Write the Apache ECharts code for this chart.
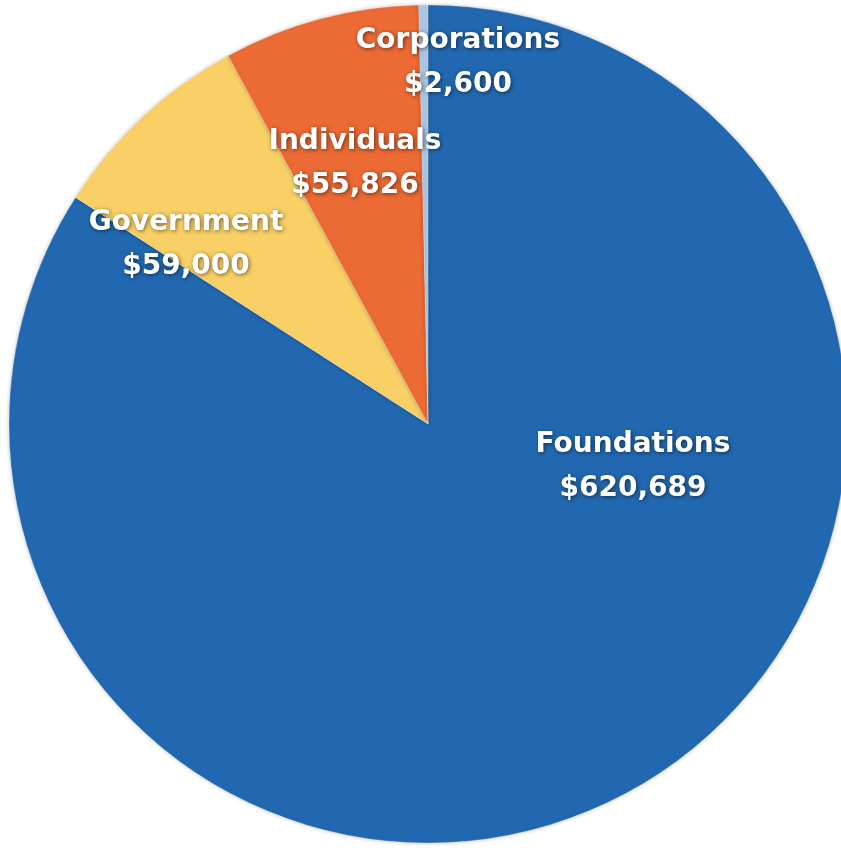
<!DOCTYPE html>
<html><head><meta charset="utf-8">
<script src="https://cdn.jsdelivr.net/npm/echarts@6/dist/echarts.min.js"></script>
<style>html,body{margin:0;padding:0;background:#fff}#c{width:841px;height:848px}</style>
</head><body><div id="c"></div>
<script>
const categories = ['Foundations', 'Government', 'Individuals', 'Corporations'];
const values = [620689, 59000, 55826, 2600];
const colors = ['#2268B0', '#F8D066', '#EC6A34', '#A9C6E2'];
// label anchor positions (pixels) for each category
const labelAnchors = [[633, 467], [186, 245], [355, 164], [458, 63]];

const chart = echarts.init(document.getElementById('c'));
const fmt = v => '$' + v.toLocaleString('en-US');
chart.setOption({
  animation: false,
  series: [{
    type: 'pie',
    center: [428, 424],
    radius: 419,
    startAngle: 90,
    clockwise: true,
    data: categories.map((c, i) => ({ name: c, value: values[i], itemStyle: { color: colors[i] } })),
    itemStyle: {
      borderColor: 'rgba(255,255,255,0.25)',
      borderWidth: 1,
      shadowBlur: 4,
      shadowColor: 'rgba(0,0,0,0.25)'
    },
    label: {
      show: true,
      position: 'inside',
      formatter: p => p.name + '\n' + fmt(p.value),
      color: '#ffffff',
      fontFamily: 'DejaVu Sans',
      fontWeight: 'bold',
      fontSize: 28,
      lineHeight: 44,
      align: 'center',
      textShadowColor: 'rgba(0,0,0,0.55)',
      textShadowBlur: 4,
      textShadowOffsetX: 1,
      textShadowOffsetY: 1
    },
    labelLine: { show: false },
    labelLayout: p => ({
      x: labelAnchors[p.dataIndex][0],
      y: labelAnchors[p.dataIndex][1],
      align: 'center',
      verticalAlign: 'middle'
    })
  }]
});
</script></body></html>
